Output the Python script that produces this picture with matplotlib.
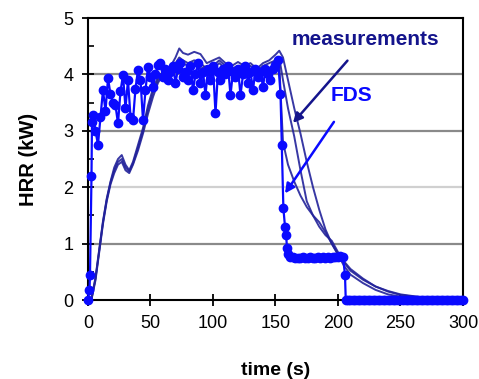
import numpy as np
import matplotlib
matplotlib.use("Agg")
import matplotlib.pyplot as plt

plt.rcParams['font.family'] = ['Liberation Sans', 'DejaVu Sans']

# FDS prediction (blue line with markers)
fds_early_t = [0, 1.2, 1.6, 2.8, 3.2]
fds_early_hrr = [0.0, 0.18, 0.44, 2.19, 3.16]

fds_plateau_t = np.arange(4, 155, 2)
fds_plateau_hrr = [3.28, 3.00, 2.75, 3.25, 3.72, 3.35, 3.93, 3.65, 3.50, 3.45,
                   3.13, 3.70, 3.99, 3.40, 3.90, 3.25, 3.19, 3.75, 4.08, 3.90,
                   3.19, 3.72, 4.14, 3.96, 3.78, 4.00, 4.17, 4.20, 3.95, 4.10,
                   3.90, 4.05, 4.15, 3.85, 4.10, 4.20, 3.95, 4.05, 3.90, 4.15,
                   3.72, 4.00, 4.20, 3.85, 4.05, 3.63, 4.10, 3.90, 4.15, 3.31,
                   4.05, 3.90, 4.10, 4.00, 4.15, 3.63, 4.05, 3.95, 4.10, 3.63,
                   4.00, 4.15, 3.85, 4.05, 3.72, 4.10, 3.95, 4.05, 3.78, 4.10,
                   4.00, 3.90, 4.10, 4.17, 4.26, 3.66]

fds_drop_t = [155, 156.3, 157.6, 158.5, 159.2, 160]
fds_drop_hrr = [2.75, 1.63, 1.30, 1.15, 0.92, 0.82]

fds_flat_t = np.arange(162, 205, 2)
fds_flat_hrr = [0.77, 0.76, 0.75, 0.74, 0.75, 0.76, 0.74, 0.75, 0.76, 0.75, 0.74,
                0.76, 0.75, 0.77, 0.75, 0.76, 0.74, 0.76, 0.77, 0.76, 0.78, 0.77]

fds_end_t = [205.6, 206.2] + list(np.arange(208, 301, 2))
fds_end_hrr = [0.44, 0.0,
               0, 0, 0, 0, 0, 0, 0, 0, 0, 0, 0, 0, 0, 0, 0, 0,
               0, 0, 0, 0, 0, 0, 0, 0, 0, 0, 0, 0, 0, 0, 0, 0,
               0, 0, 0, 0, 0, 0, 0, 0, 0, 0, 0, 0, 0, 0, 0]

fds_t = np.concatenate([fds_early_t, fds_plateau_t, fds_drop_t, fds_flat_t, fds_end_t])
fds_hrr = np.concatenate([fds_early_hrr, fds_plateau_hrr, fds_drop_hrr, fds_flat_hrr, fds_end_hrr])

# measurements (three repeat tests)
meas_t = [0, 3, 6, 9, 12, 15, 18, 21, 24, 27, 30, 33, 36, 40, 44, 48, 52, 56, 60,
          65, 70, 73, 76, 80, 85, 90, 95, 100, 105, 110, 115, 120, 125, 130, 135,
          140, 145, 150, 153, 156, 160, 165, 170, 175, 180, 185, 190, 195, 200,
          205, 210, 220, 230, 240, 250, 260, 270, 280, 290, 300]
meas_1 = [0.0, 0.05, 0.40, 0.90, 1.40, 1.80, 2.10, 2.35, 2.50, 2.57, 2.40, 2.30,
          2.45, 2.75, 3.05, 3.45, 3.75, 3.95, 4.05, 4.10, 4.30, 4.46, 4.38, 4.35,
          4.40, 4.36, 4.20, 4.25, 4.30, 4.20, 4.15, 4.22, 4.15, 4.20, 4.10, 4.20,
          4.25, 4.35, 4.42, 4.30, 3.90, 3.40, 2.95, 2.45, 2.00, 1.60, 1.25, 1.00,
          0.82, 0.66, 0.52, 0.36, 0.24, 0.16, 0.10, 0.07, 0.04, 0.03, 0.02, 0.02]
meas_2 = [0.0, 0.03, 0.35, 0.85, 1.35, 1.75, 2.05, 2.25, 2.40, 2.45, 2.30, 2.25,
          2.40, 2.65, 2.95, 3.30, 3.60, 3.85, 4.00, 4.05, 4.15, 4.20, 4.20, 4.15,
          4.20, 4.10, 4.15, 4.10, 4.20, 4.10, 4.05, 4.10, 4.10, 4.05, 4.10, 4.05,
          4.10, 4.20, 4.30, 3.90, 3.40, 2.90, 2.30, 1.75, 1.50, 1.30, 1.15, 1.05,
          0.85, 0.68, 0.55, 0.38, 0.24, 0.15, 0.09, 0.06, 0.04, 0.03, 0.02, 0.02]
meas_3 = [0.0, 0.04, 0.38, 0.88, 1.38, 1.78, 2.08, 2.30, 2.45, 2.50, 2.35, 2.28,
          2.42, 2.70, 3.00, 3.38, 3.68, 3.90, 4.02, 4.08, 4.20, 4.30, 4.25, 4.20,
          4.25, 4.20, 4.10, 4.15, 4.25, 4.15, 4.10, 4.15, 4.05, 4.15, 4.05, 4.15,
          4.20, 4.25, 4.20, 2.80, 2.40, 2.10, 1.85, 1.65, 1.50, 1.38, 1.20, 1.00,
          0.80, 0.60, 0.45, 0.30, 0.18, 0.10, 0.06, 0.04, 0.03, 0.02, 0.02, 0.02]

grid_levels = [1, 2, 3, 4]
grid_colors = ['#8a8a8a', '#d0d0d0', '#8a8a8a', '#8a8a8a']

fig = plt.figure(figsize=(4.79, 3.79), dpi=100)
ax = fig.add_axes([0.1837, 0.2084, 0.7829, 0.7441])

for level, col in zip(grid_levels, grid_colors):
    ax.axhline(level, color=col, lw=1.6, zorder=1)

for series in (meas_1, meas_2, meas_3):
    ax.plot(meas_t, series, color='#22229a', lw=1.4, alpha=0.9, zorder=2)

ax.plot(fds_t, fds_hrr, color='#0a0aff', lw=1.6, marker='o', markersize=6,
        zorder=5, clip_on=False)

ax.set_xlim(0, 300)
ax.set_ylim(0, 5)
ax.set_xticks([0, 50, 100, 150, 200, 250, 300])
ax.set_yticks([0, 1, 2, 3, 4, 5])
ax.set_yticks(np.arange(0.5, 5, 1), minor=True)
ax.tick_params(axis='both', which='major', direction='inout', length=9, width=1.3,
               labelsize=13, pad=6)
ax.tick_params(axis='y', which='minor', direction='in', length=4, width=1.2)
for sp in ax.spines.values():
    sp.set_linewidth(1.5)
    sp.set_zorder(4)

ax.set_xlabel('time (s)', fontsize=14, fontweight='bold', labelpad=22)
ax.set_ylabel('HRR (kW)', fontsize=14.5, fontweight='bold', labelpad=18)

ax.annotate('measurements', xy=(164, 3.14), xytext=(222, 4.61),
            fontsize=15, fontweight='bold', color='#14148c', ha='center', va='center',
            arrowprops=dict(arrowstyle='-|>', color='#14148c', lw=1.8,
                            mutation_scale=14, shrinkA=8, shrinkB=0))
ax.annotate('FDS', xy=(157.6, 1.89), xytext=(211, 3.62),
            fontsize=15, fontweight='bold', color='#0a0aff', ha='center', va='center',
            arrowprops=dict(arrowstyle='-|>', color='#0a0aff', lw=1.8,
                            mutation_scale=14, shrinkA=12, shrinkB=0))

fig.savefig('out.png', dpi=100)
